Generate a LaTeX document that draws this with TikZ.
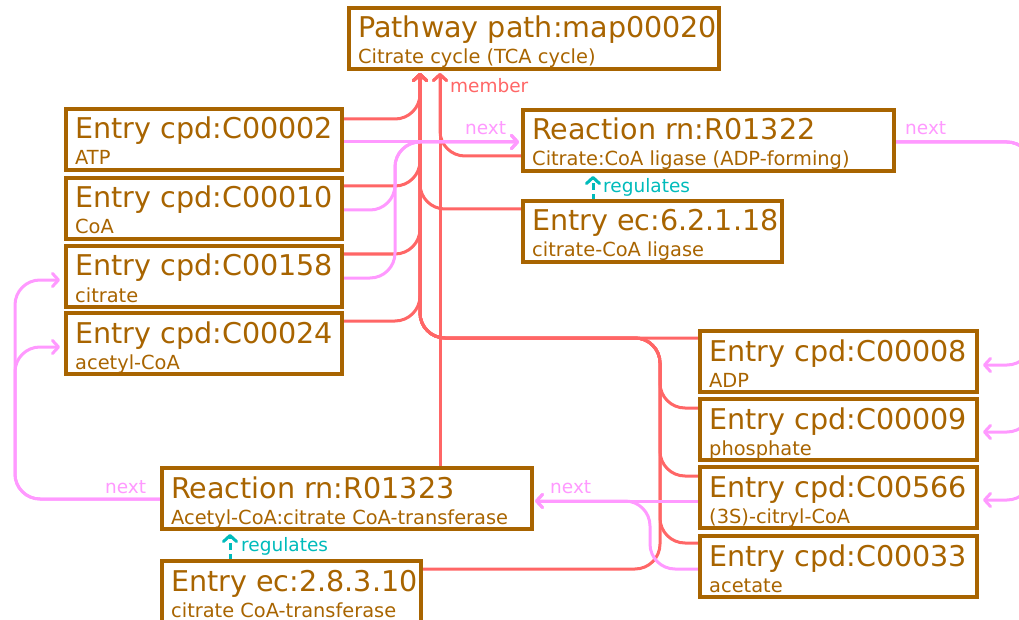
\documentclass[tikz,border=0pt]{standalone}
\usepackage{fontspec}
\setmainfont{DejaVu Sans}
\usetikzlibrary{arrows.meta,backgrounds}
\definecolor{brn}{RGB}{168,100,0}
\definecolor{memc}{RGB}{255,102,102}
\definecolor{nxt}{RGB}{255,153,255}
\definecolor{regc}{RGB}{0,187,187}
\newcommand\kbox[6]{%
  \node[box, minimum width=#4] (#1) at (#2,#3) {};
  \node[ttl] (#1t) at ([xshift=9pt,yshift=-30pt]#1.north west) {#5};
  \node[sub] (#1s) at ([xshift=9pt,yshift=-56pt]#1.north west) {#6};
}
\begin{document}
\begin{tikzpicture}[x=1pt,y=-1pt,
  box/.style={draw=brn, line width=3.5pt, anchor=north west, minimum height=61pt, inner sep=0pt, outer sep=0pt},
  ttl/.style={anchor=base west, inner sep=0pt, text=brn, font=\fontsize{28.6}{30}\selectfont},
  sub/.style={anchor=base west, inner sep=0pt, text=brn, font=\fontsize{19.4}{21}\selectfont},
  lab/.style={anchor=base west, inner sep=0pt, font=\fontsize{18.5}{20}\selectfont},
  member/.style={draw=memc, line width=3pt, rounded corners=25pt, -{Straight Barb[length=6pt,width=13pt,round]}, shorten >=4pt},
  nextp/.style={draw=nxt, line width=3pt, rounded corners=25pt, -{Straight Barb[length=6pt,width=13pt,round]}, shorten >=5pt},
  regp/.style={draw=regc, line width=3pt, dash pattern=on 7pt off 4pt, -{Straight Barb[length=6pt,width=13pt,round]}, shorten >=5pt}]
\useasboundingbox (0,0) rectangle (1019,620);
\clip (0,0) rectangle (1019,620);

\kbox{P}{349}{8}{370pt}{Pathway path:map00020}{Citrate cycle (TCA cycle)}
\kbox{c2}{66}{109}{276pt}{Entry cpd:C00002}{ATP}
\kbox{c10}{66}{178}{276pt}{Entry cpd:C00010}{CoA}
\kbox{c158}{66}{246}{276pt}{Entry cpd:C00158}{citrate}
\kbox{c24}{66}{313}{276pt}{Entry cpd:C00024}{acetyl-CoA}
\kbox{r1322}{523}{110}{371pt}{Reaction rn:R01322}{Citrate:CoA ligase (ADP-forming)}
\kbox{ec6}{523}{201}{259pt}{Entry ec:6.2.1.18}{citrate-CoA ligase}
\kbox{c8}{700}{331}{277pt}{Entry cpd:C00008}{ADP}
\kbox{c9}{700}{399}{277pt}{Entry cpd:C00009}{phosphate}
\kbox{c566}{700}{467}{277pt}{Entry cpd:C00566}{(3S)-citryl-CoA}
\kbox{c33}{700}{536}{277pt}{Entry cpd:C00033}{acetate}
\kbox{r1323}{162}{468}{370pt}{Reaction rn:R01323}{Acetyl-CoA:citrate CoA-transferase}
\kbox{ec2}{162}{561}{259pt}{Entry ec:2.8.3.10}{citrate CoA-transferase}

\coordinate (trA) at (420,0);
\coordinate (trB) at (440,0);
\coordinate (trC) at (660,0);
\coordinate (vx) at (395,0);
\coordinate (vR) at (1032,0);
\coordinate (vL) at (15,0);
\coordinate (vq) at (650,0);
\coordinate (c8m) at ([yshift=-7pt]c8.north west);
\coordinate (n1) at ([yshift=-33pt]c2.north east);
\coordinate (n4) at ([yshift=-32pt]r1322.north east);
\coordinate (c8in) at ([yshift=-34pt]c8.north east);
\coordinate (c9in) at ([yshift=-33pt]c9.north east);
\coordinate (c566in) at ([yshift=-33pt]c566.north east);
\coordinate (n5) at ([yshift=-34pt]c566.north west);
\coordinate (n7) at ([yshift=-31pt]r1323.north west);
\coordinate (c158in) at ([yshift=-34pt]c158.north west);
\coordinate (c24in) at ([yshift=-34pt]c24.north west);

\begin{pgfonlayer}{background}
% member edges
\draw[member] ([yshift=-10pt]c2.north east) -| (P.south -| trA);
\draw[member] ([yshift=-8pt]c10.north east) -| (P.south -| trA);
\draw[member] ([yshift=-8pt]c158.north east) -| (P.south -| trA);
\draw[member] ([yshift=-8pt]c24.north east) -| (P.south -| trA);
\draw[member] ([yshift=-8pt]ec6.north west) -| (P.south -| trA);
\draw[member] ([yshift=15pt]r1322.south west) -| (P.south -| trB);
\draw[member] (r1323.north -| trB) -- (P.south -| trB);
\draw[member] (c8m) -| (P.south -| trA);
\draw[member] ([yshift=-9pt]c9.north west) -| (trC |- c8m) -| (P.south -| trA);
\draw[member] ([yshift=-9pt]c566.north west) -| (trC |- c8m) -| (P.south -| trA);
\draw[member] ([yshift=-7pt]c33.north west) -| (trC |- c8m) -| (P.south -| trA);
\draw[member] ([yshift=-8pt]ec2.north east) -| (trC |- c8m) -| (P.south -| trA);
% next edges
\draw[nextp, shorten >=4pt] (n1) -- (r1322.west |- n1);
\draw[nextp, shorten >=4pt] ([yshift=-32pt]c10.north east) -| (vx |- n1) -- (r1322.west |- n1);
\draw[nextp, shorten >=4pt] ([yshift=-32pt]c158.north east) -| (vx |- n1) -- (r1322.west |- n1);
\draw[nextp, shorten >=6pt] (n4) -| (vR |- c8in) -- (c8in);
\draw[nextp, shorten >=6pt] (n4) -| (vR |- c9in) -- (c9in);
\draw[nextp, shorten >=6pt] (n4) -| (vR |- c566in) -- (c566in);
\draw[nextp, shorten >=3pt] (n5) -- (r1323.east |- n5);
\draw[nextp, shorten >=3pt] ([yshift=-33pt]c33.north west) -| (vq |- n5) -- (r1323.east |- n5);
\draw[nextp, shorten >=6pt] (n7) -| (vL |- c158in) -- (c158in);
\draw[nextp, shorten >=6pt] (n7) -| (vL |- c24in) -- (c24in);
% regulates
\draw[regp] ([xshift=70pt]ec6.north west) -- ([xshift=70pt]r1322.south west);
\draw[regp] ([xshift=68pt]ec2.north west) -- ([xshift=68pt]r1323.south west);
\end{pgfonlayer}

\node[lab, text=memc] (lm) at (450,93) {member};
\node[lab, text=nxt] (ln1) at (465,135) {next};
\node[lab, text=nxt] (ln2) at (905,135) {next};
\node[lab, text=nxt] (ln3) at (550,493) {next};
\node[lab, text=nxt] (ln4) at (105,493) {next};
\node[lab, text=regc] (lr1) at (603,193) {regulates};
\node[lab, text=regc] (lr2) at (241,551) {regulates};
\end{tikzpicture}
\end{document}
